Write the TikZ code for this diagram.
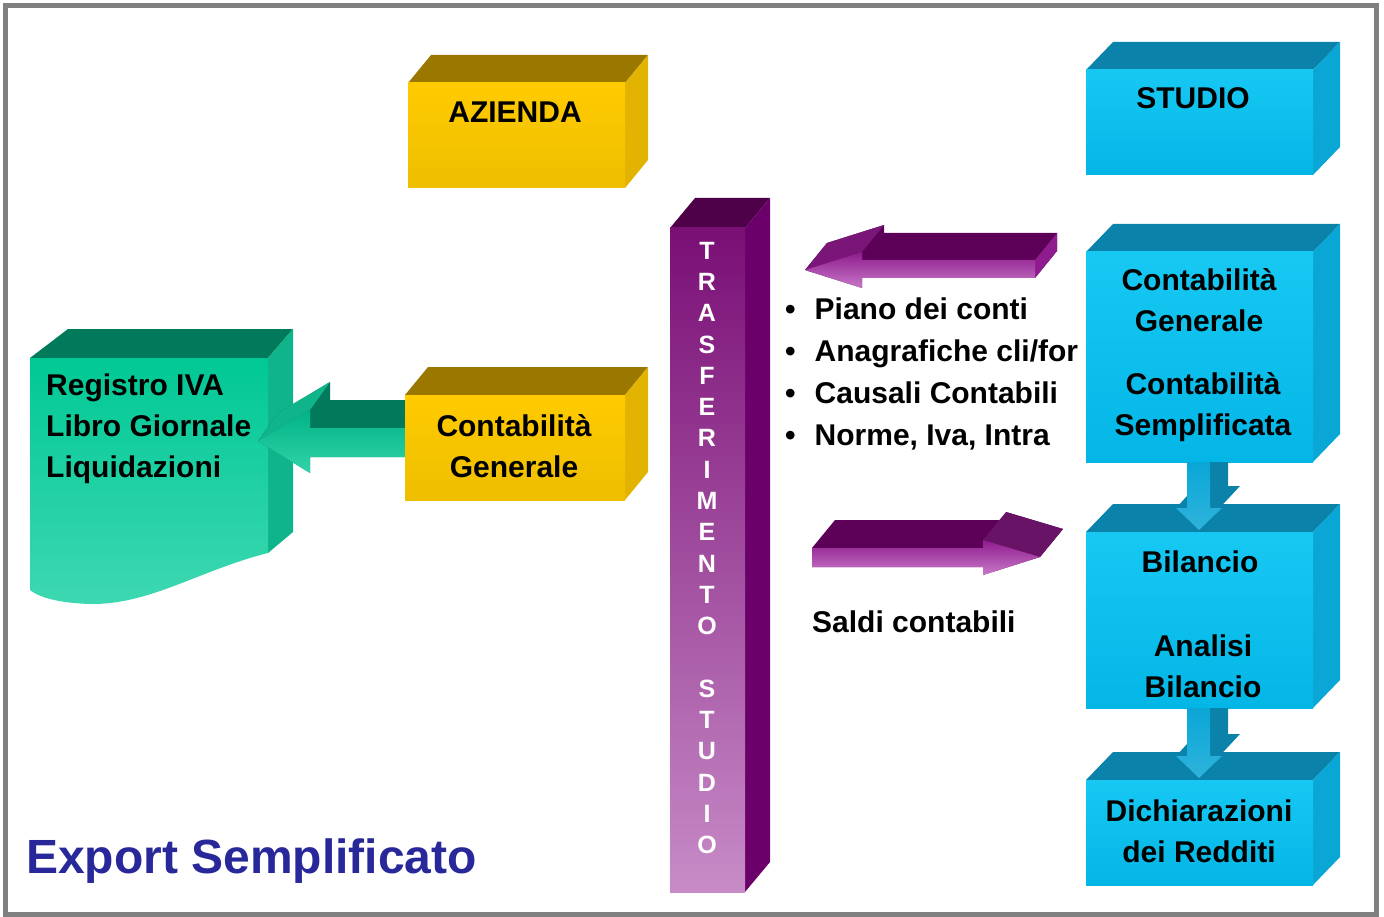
\documentclass[tikz,border=0pt]{standalone}
\usepackage{fontspec}
\setmainfont{Liberation Sans}
\usepackage{xcolor}
\usetikzlibrary{calc}

\definecolor{framegray}{HTML}{808080}
\definecolor{yelltop}{HTML}{9A7800}
\definecolor{yellside}{HTML}{E2B300}
\definecolor{yella}{HTML}{FFCB00}
\definecolor{yellb}{HTML}{EEBE00}
\definecolor{bluetop}{HTML}{0A82A9}
\definecolor{blueside}{HTML}{0AA6D6}
\definecolor{bluea}{HTML}{16C8F2}
\definecolor{blueb}{HTML}{04B6E6}
\definecolor{coltop}{HTML}{4E0048}
\definecolor{colside}{HTML}{6C006A}
\definecolor{cola}{HTML}{7A0F76}
\definecolor{colb}{HTML}{C78BC7}
\definecolor{grntop}{HTML}{007A5A}
\definecolor{grnside}{HTML}{10B48A}
\definecolor{grna}{HTML}{00C894}
\definecolor{grnb}{HTML}{3ED8B2}
\definecolor{arrdark}{HTML}{5C0058}
\definecolor{arrhead}{HTML}{7A1678}
\definecolor{arra}{HTML}{8E1C8E}
\definecolor{arrb}{HTML}{C878C8}
\definecolor{navy}{HTML}{28289A}

% front face, top face and right face of a block
\newcommand{\solidbox}[7]{%
  \fill[#7top] (#1,#2) -- ++(#5,-#6) -- (#3+#5,#2-#6) -- (#3,#2) -- cycle;
  \fill[#7side] (#3,#2) -- ++(#5,-#6) -- (#3+#5,#4-#6) -- (#3,#4) -- cycle;
  \shade[top color=#7a, bottom color=#7b] (#1,#2) rectangle (#3,#4);}

\tikzset{
  boxtext/.style={font=\bfseries\fontsize{30}{41}\selectfont, align=center, inner sep=0pt},
  lefttext/.style={boxtext, align=left},
  columntext/.style={font=\bfseries\fontsize{25}{31.3}\selectfont, text=white, align=center, inner sep=0pt}
}

\begin{document}
\begin{tikzpicture}[x=1pt,y=-1pt]
	\useasboundingbox (0,0) rectangle (1384,917);
	\draw[framegray, line width=5pt] (5.5,5.5) rectangle (1376,914.5);

	% registri
	\fill[grntop] (30,358) -- (68,329) -- (293,329) -- (268,358) -- cycle;
	\fill[grnside] (268,358) -- (293,329) -- (293,532) -- (268,553) -- cycle;
	\shade[top color=grna, bottom color=grnb] (30,358) -- (268,358) -- (268,553) .. controls (200,570) and (150,605) .. (90,604) .. controls (60,603) and (40,598) .. (30,590) -- cycle;

	% freccia verde
	\fill[grntop] (258,441) -- (278,413) -- (330,382) -- (330,400) -- (420,400) -- (420,457) -- (310,457) -- (310,473) -- cycle;
	\fill[grnside] (258,441) -- (278,413) -- (330,382) -- (310,410) -- cycle;
	\shade[top color=grna!90!black, bottom color=grna!80!white] (258,441) -- (310,410) -- (310,428) -- (405,428) -- (405,457) -- (310,457) -- (310,473) -- cycle;

	% azienda
	\solidbox{408}{83}{625}{188}{23}{28}{yell}
	\solidbox{405}{395}{625}{500}{23}{28}{yell}

	% colonna trasferimento
	\solidbox{670}{228}{745}{892}{25}{30}{col}

	% frecce viola
	\fill[arrdark] (805,270) -- (827,243) -- (884,225) -- (884,233) -- (1057,233) -- (1057,251) -- (1035,278) -- (862,278) -- (862,288) -- cycle;
	\fill[arrhead] (805,270) -- (827,243) -- (884,225) -- (862,252) -- cycle;
	\fill[arra] (1035,260) -- (1057,233) -- (1057,251) -- (1035,278) -- cycle;
	\shade[top color=arra, bottom color=arrb] (805,270) -- (862,252) -- (862,260) -- (1035,260) -- (1035,278) -- (862,278) -- (862,288) -- cycle;

	\fill[arrdark] (812,548) -- (835,520) -- (1006,520) -- (1006,512) -- (1063,529) -- (1040,557) -- (983,575) -- (983,567) -- (812,567) -- cycle;
	\fill[arrhead!85!black] (983,540) -- (1006,512) -- (1063,529) -- (1040,557) -- cycle;
	\shade[top color=arra, bottom color=arrb] (812,548) -- (983,548) -- (983,540) -- (1040,557) -- (983,575) -- (983,567) -- (812,567) -- cycle;

	% studio
	\solidbox{1086}{70}{1313}{175}{27}{28}{blue}
	\solidbox{1086}{252}{1313}{462}{27}{28}{blue}
	\solidbox{1086}{532}{1313}{708}{27}{28}{blue}
	\solidbox{1086}{780}{1313}{885}{27}{28}{blue}

	% frecce blu
	\fill[bluetop] (1187,462) -- (1228,462) -- (1228,486) -- (1240,486) -- (1199,530) -- (1176,508) -- (1187,496) -- cycle;
	\shade[top color=blueside, bottom color=blueside!85!white] (1187,462) -- (1210,462) -- (1210,508) -- (1222,508) -- (1199,530) -- (1176,508) -- (1187,508) -- cycle;
	\fill[bluetop] (1187,708) -- (1228,708) -- (1228,734) -- (1240,734) -- (1199,778) -- (1176,756) -- (1187,744) -- cycle;
	\shade[top color=blueside, bottom color=blueside!85!white] (1187,708) -- (1210,708) -- (1210,756) -- (1222,756) -- (1199,778) -- (1176,756) -- (1187,756) -- cycle;

	% testi
	\node[boxtext] (azienda) at (515,112) {AZIENDA};
	\node[boxtext] (contgen) at (514,446) {Contabilità\\Generale};
	\node[lefttext, anchor=west] (registri) at (46,429) {Registro IVA\\Libro Giornale\\Liquidazioni};
	\node[columntext] (trasf) at (707,548) {T\\R\\A\\S\\F\\E\\R\\I\\M\\E\\N\\T\\O\\[31.3pt]S\\T\\U\\D\\I\\O};
	\node[boxtext] (studio) at (1193,98) {STUDIO};
	\node[boxtext] (contstudio) at (1199,300) {Contabilità\\Generale};
	\node[boxtext] (contsempl) at (1203,407) {Contabilità\\Semplificata};
	\node[boxtext] (bilancio) at (1200,562) {Bilancio};
	\node[boxtext] (analisi) at (1203,666) {Analisi\\Bilancio};
	\node[boxtext] (dichiar) at (1199,831) {Dichiarazioni\\dei Redditi};
	\node[lefttext, anchor=west, font=\bfseries\fontsize{30}{42}\selectfont] (elenco) at (785,374) {\textbullet\hspace{19pt}Piano dei conti\\\textbullet\hspace{19pt}Anagrafiche cli/for\\\textbullet\hspace{19pt}Causali Contabili\\\textbullet\hspace{19pt}Norme, Iva, Intra};
	\node[lefttext, anchor=west] (saldi) at (812,622) {Saldi contabili};
	\node[anchor=west, inner sep=0pt, font=\bfseries\fontsize{48}{50}\selectfont, text=navy] (titolo) at (26,861) {Export Semplificato};
\end{tikzpicture}
\end{document}
